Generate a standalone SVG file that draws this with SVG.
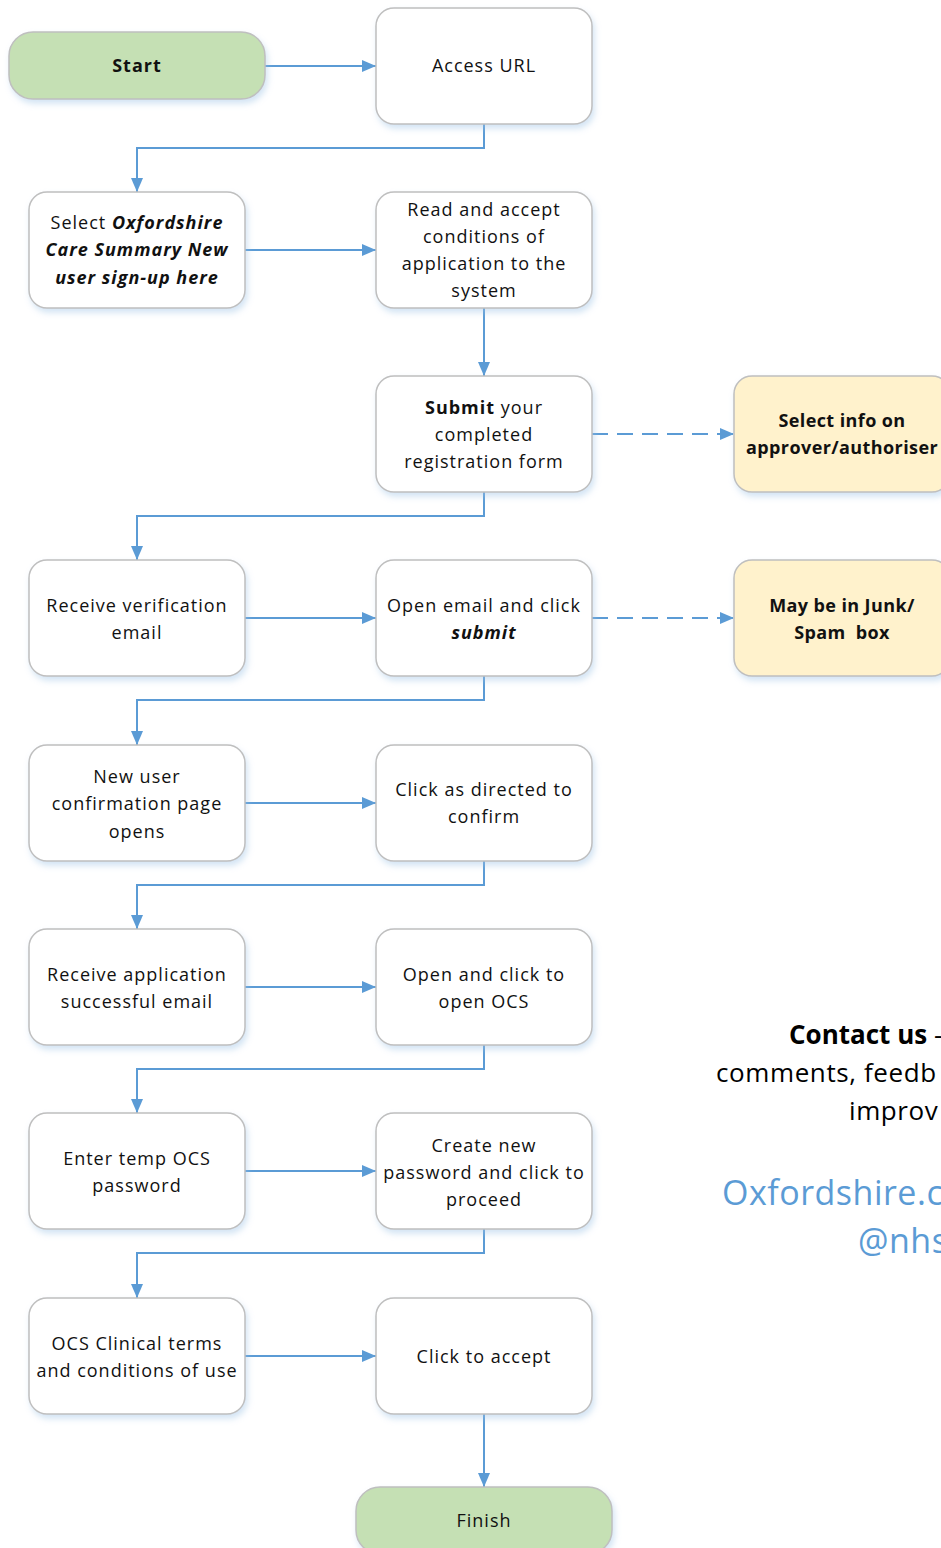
<svg xmlns="http://www.w3.org/2000/svg" width="941" height="1548" viewBox="0 0 941 1548">
<defs>
<filter id="sh" x="-10%" y="-10%" width="130%" height="140%">
<feDropShadow dx="2" dy="4" stdDeviation="3" flood-color="#9dc3e6" flood-opacity="0.45"/>
</filter>
<marker id="ah" viewBox="0 0 14 12" refX="14" refY="6" markerWidth="14" markerHeight="12" markerUnits="userSpaceOnUse" orient="auto">
<path d="M0,0 L14,6 L0,12 Z" fill="#5b9bd5"/>
</marker>
<style>
.box{fill:#ffffff;stroke:#bfbfbf;stroke-width:1.5;filter:url(#sh)}
.term{fill:#c5e0b4;stroke:#bfbfbf;stroke-width:1.5;filter:url(#sh)}
.note{fill:#fff2cc;stroke:#bfbfbf;stroke-width:1.5;filter:url(#sh)}
.t{font-family:"Open Sans","Liberation Sans",sans-serif;font-size:18px;fill:#111;text-anchor:middle;letter-spacing:1px}
.nt{letter-spacing:0.4px}
.b{font-weight:bold}
.bi{font-weight:bold;font-style:italic}
.c{fill:none;stroke:#5b9bd5;stroke-width:2}
.d{fill:none;stroke:#5b9bd5;stroke-width:2;stroke-dasharray:16 9}
.ct{font-family:"Open Sans","Liberation Sans",sans-serif;font-size:26px;fill:#000;letter-spacing:0.6px}
.bl{font-family:"Open Sans","Liberation Sans",sans-serif;font-size:34px;fill:#5b9bd5;letter-spacing:0.5px}
</style>
</defs>
<g id="connectors">
<path class="c" d="M265,66 H376" marker-end="url(#ah)"/>
<path class="c" d="M484,124 V148 H137 V192" marker-end="url(#ah)"/>
<path class="c" d="M245,250 H376" marker-end="url(#ah)"/>
<path class="c" d="M484,308 V376" marker-end="url(#ah)"/>
<path class="d" d="M592,434 H734" marker-end="url(#ah)"/>
<path class="c" d="M484,492 V516 H137 V560" marker-end="url(#ah)"/>
<path class="c" d="M245,618 H376" marker-end="url(#ah)"/>
<path class="d" d="M592,618 H734" marker-end="url(#ah)"/>
<path class="c" d="M484,676 V700 H137 V745" marker-end="url(#ah)"/>
<path class="c" d="M245,803 H376" marker-end="url(#ah)"/>
<path class="c" d="M484,861 V885 H137 V929" marker-end="url(#ah)"/>
<path class="c" d="M245,987 H376" marker-end="url(#ah)"/>
<path class="c" d="M484,1045 V1069 H137 V1113" marker-end="url(#ah)"/>
<path class="c" d="M245,1171 H376" marker-end="url(#ah)"/>
<path class="c" d="M484,1229 V1253 H137 V1298" marker-end="url(#ah)"/>
<path class="c" d="M245,1356 H376" marker-end="url(#ah)"/>
<path class="c" d="M484,1414 V1487" marker-end="url(#ah)"/>
</g>
<g id="start"><rect class="term" x="9" y="32" width="256" height="67" rx="24"/><text class="t b" x="137" y="72">Start</text></g>
<g id="access-url"><rect class="box" x="376" y="8" width="216" height="116" rx="18"/><text class="t" x="484" y="72">Access URL</text></g>
<g id="select-ocs"><rect class="box" x="29" y="192" width="216" height="116" rx="18"/>
<text class="t" x="137" y="229">Select <tspan class="bi">Oxfordshire</tspan></text>
<text class="t bi" x="137" y="256">Care Summary New</text>
<text class="t bi" x="137" y="284">user sign-up here</text></g>
<g id="read-accept"><rect class="box" x="376" y="192" width="216" height="116" rx="18"/>
<text class="t" x="484" y="216">Read and accept</text>
<text class="t" x="484" y="243">conditions of</text>
<text class="t" x="484" y="270">application to the</text>
<text class="t" x="484" y="297">system</text></g>
<g id="submit-form"><rect class="box" x="376" y="376" width="216" height="116" rx="18"/>
<text class="t" x="484" y="414"><tspan class="b">Submit</tspan> your</text>
<text class="t" x="484" y="441">completed</text>
<text class="t" x="484" y="468">registration form</text></g>
<g id="select-info"><rect class="note" x="734" y="376" width="216" height="116" rx="18"/>
<text class="t b nt" x="842" y="427">Select info on</text>
<text class="t b nt" x="842" y="454">approver/authoriser</text></g>
<g id="receive-verification"><rect class="box" x="29" y="560" width="216" height="116" rx="18"/>
<text class="t" x="137" y="612">Receive verification</text>
<text class="t" x="137" y="639">email</text></g>
<g id="open-email"><rect class="box" x="376" y="560" width="216" height="116" rx="18"/>
<text class="t" x="484" y="612">Open email and click</text>
<text class="t bi" x="484" y="639">submit</text></g>
<g id="junk-spam"><rect class="note" x="734" y="560" width="216" height="116" rx="18"/>
<text class="t b nt" x="842" y="612">May be in Junk/</text>
<text class="t b nt" x="842" y="639" xml:space="preserve">Spam  box</text></g>
<g id="confirmation-page"><rect class="box" x="29" y="745" width="216" height="116" rx="18"/>
<text class="t" x="137" y="783">New user</text>
<text class="t" x="137" y="810">confirmation page</text>
<text class="t" x="137" y="838">opens</text></g>
<g id="click-confirm"><rect class="box" x="376" y="745" width="216" height="116" rx="18"/>
<text class="t" x="484" y="796">Click as directed to</text>
<text class="t" x="484" y="823">confirm</text></g>
<g id="receive-application"><rect class="box" x="29" y="929" width="216" height="116" rx="18"/>
<text class="t" x="137" y="981">Receive application</text>
<text class="t" x="137" y="1008">successful email</text></g>
<g id="open-ocs"><rect class="box" x="376" y="929" width="216" height="116" rx="18"/>
<text class="t" x="484" y="981">Open and click to</text>
<text class="t" x="484" y="1008">open OCS</text></g>
<g id="enter-temp"><rect class="box" x="29" y="1113" width="216" height="116" rx="18"/>
<text class="t" x="137" y="1165">Enter temp OCS</text>
<text class="t" x="137" y="1192">password</text></g>
<g id="create-password"><rect class="box" x="376" y="1113" width="216" height="116" rx="18"/>
<text class="t" x="484" y="1152">Create new</text>
<text class="t" x="484" y="1179">password and click to</text>
<text class="t" x="484" y="1206">proceed</text></g>
<g id="ocs-terms"><rect class="box" x="29" y="1298" width="216" height="116" rx="18"/>
<text class="t" x="137" y="1350">OCS Clinical terms</text>
<text class="t" x="137" y="1377">and conditions of use</text></g>
<g id="click-accept"><rect class="box" x="376" y="1298" width="216" height="116" rx="18"/>
<text class="t" x="484" y="1363">Click to accept</text></g>
<g id="finish"><rect class="term" x="356" y="1487" width="256" height="67" rx="24"/><text class="t" x="484" y="1527">Finish</text></g>
<g id="contact">
<text class="ct" x="789" y="1044" style="letter-spacing:0"><tspan font-weight="bold">Contact us</tspan> -</text>
<text class="ct" x="716" y="1082">comments, feedb</text>
<text class="ct" x="849" y="1120">improv</text>
<text class="bl" x="722" y="1205">Oxfordshire.c</text>
<text class="bl" x="858" y="1253">@nhs</text>
</g>
</svg>
